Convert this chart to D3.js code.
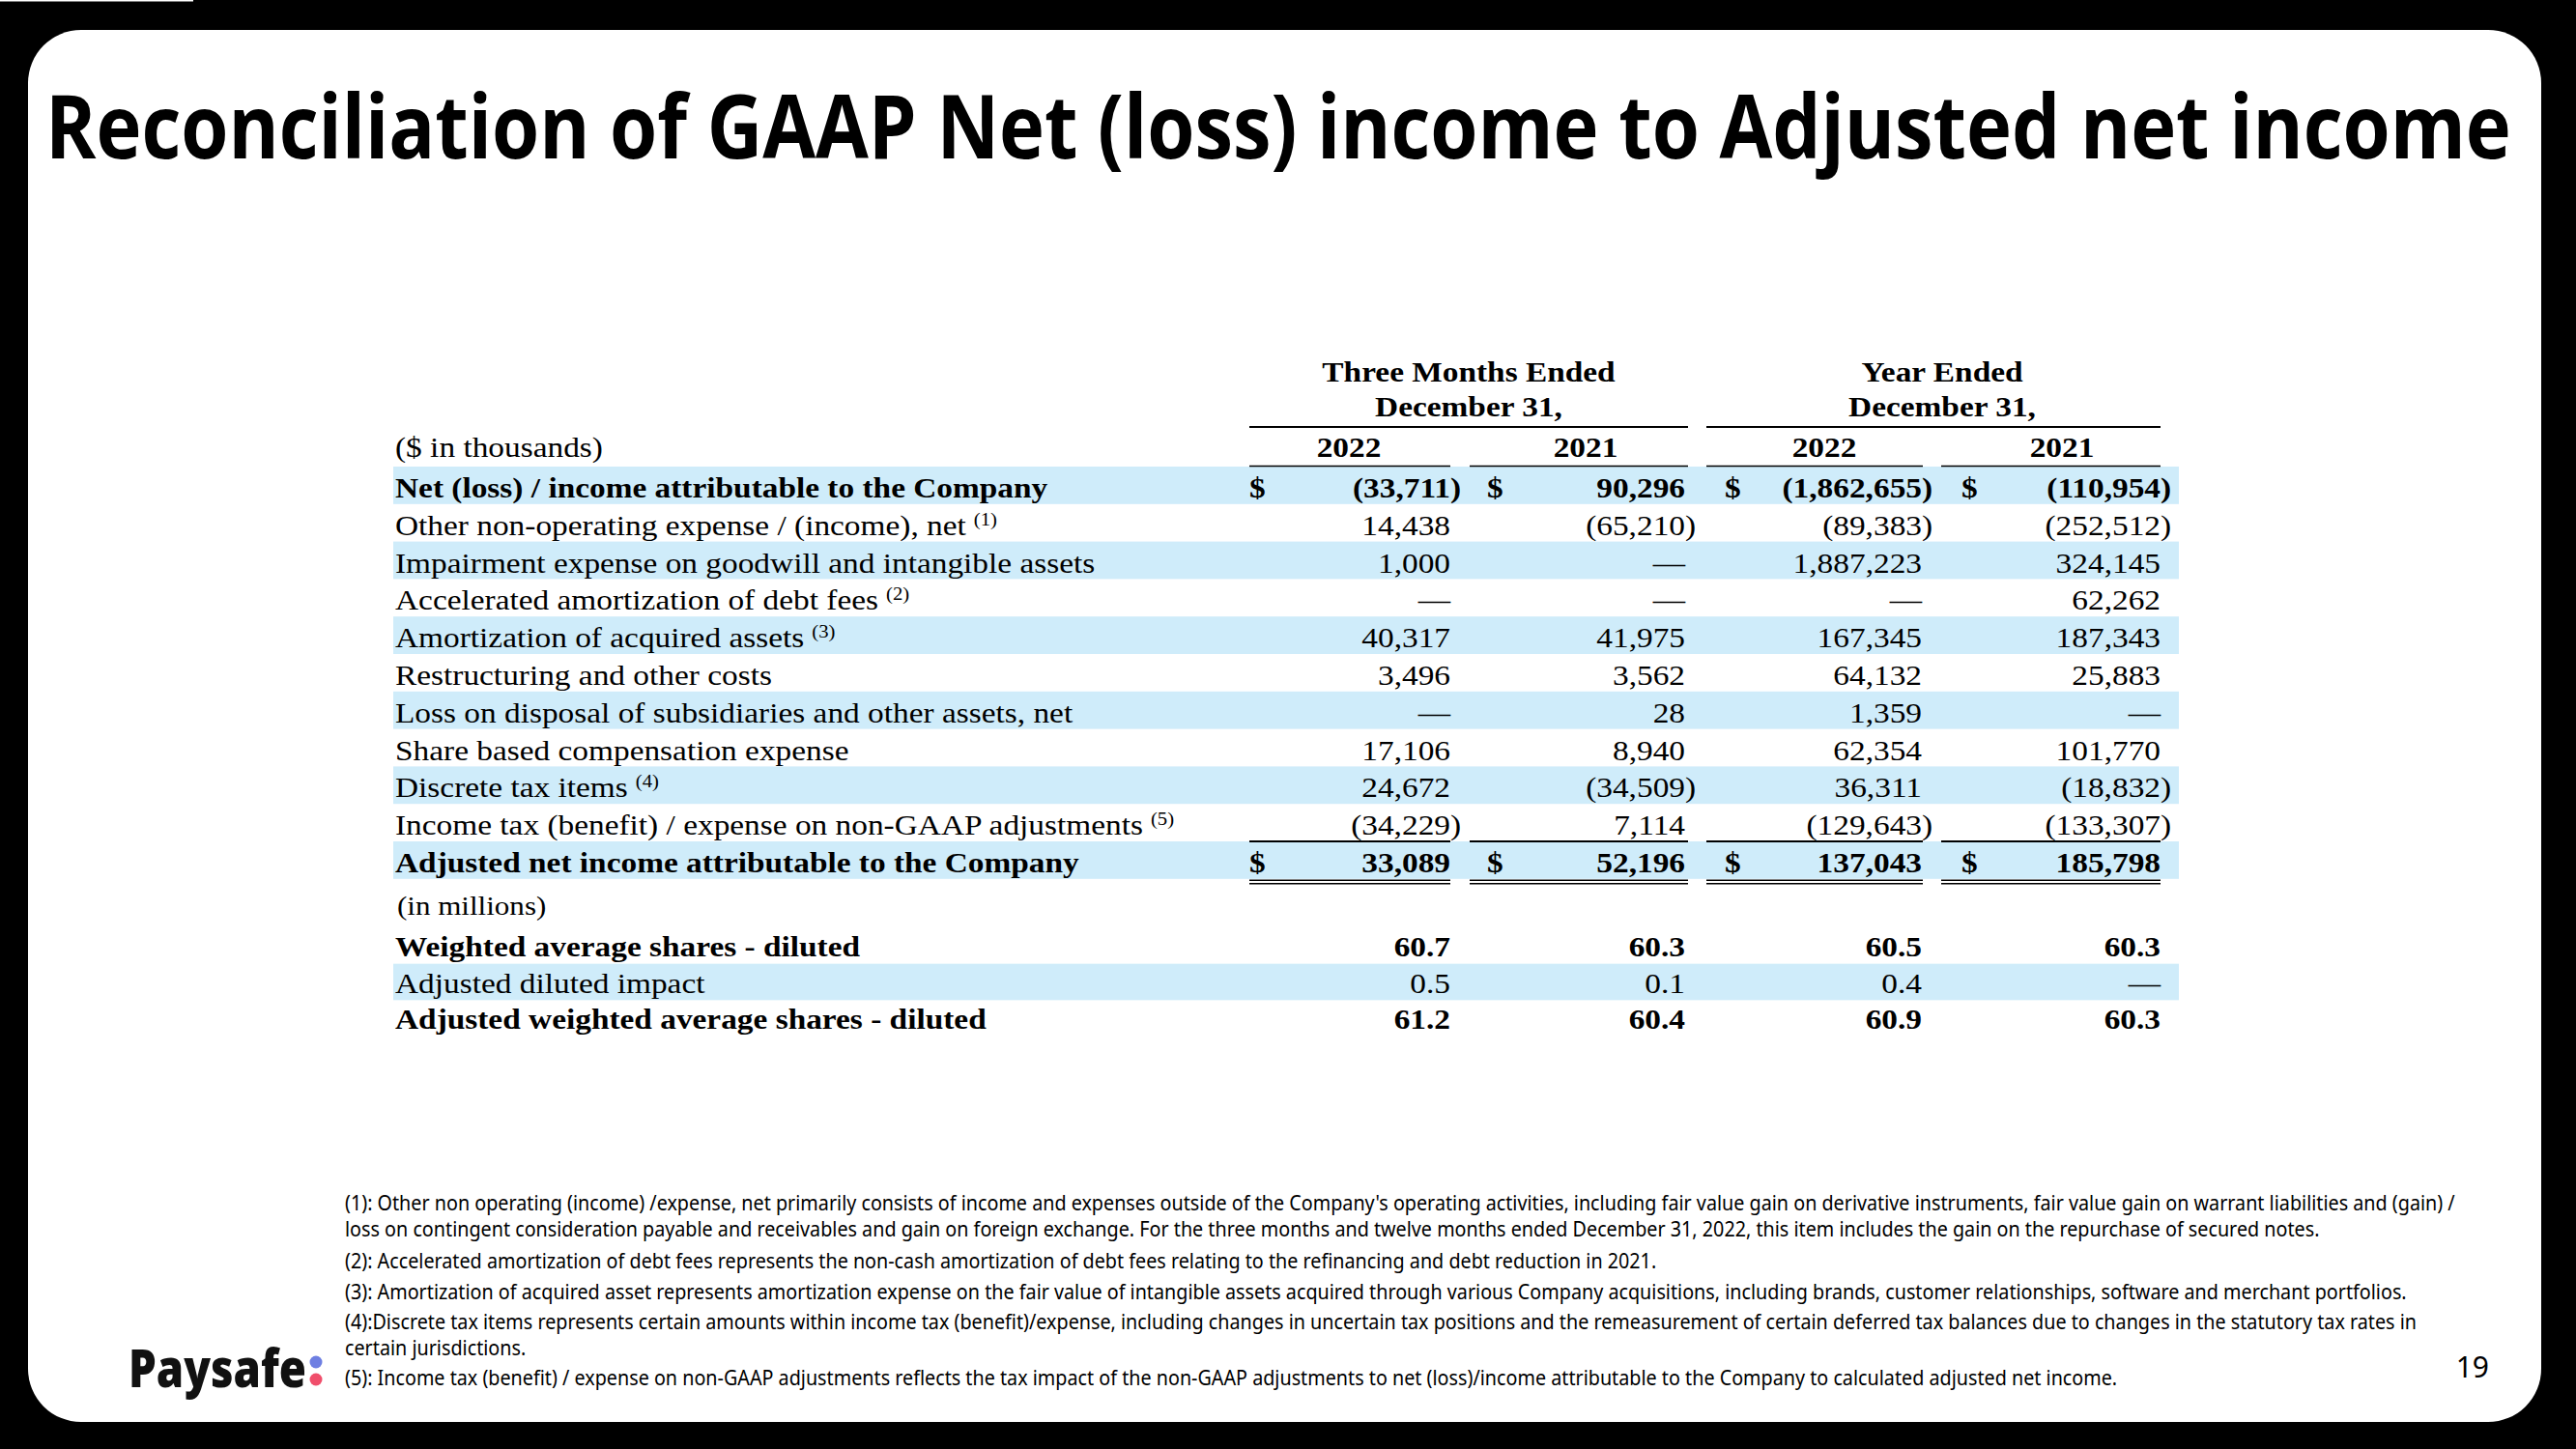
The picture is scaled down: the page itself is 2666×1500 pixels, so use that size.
<!DOCTYPE html>
<html>
<head>
<meta charset="utf-8">
<script src="https://cdn.jsdelivr.net/npm/d3@7"></script>
<style>
  html, body { margin: 0; padding: 0; background: #000; }
  svg { display: block; }
</style>
</head>
<body>
<script>
// ---------------- DATA ----------------
const titleText = "Reconciliation of GAAP Net (loss) income to Adjusted net income";
const unitLabel = "($ in thousands)";
const periodHeaders = [["Three Months Ended", "December 31,"], ["Year Ended", "December 31,"]];
const yearLabels = ["2022", "2021", "2022", "2021"];
const columnKeys = ["q4_2022", "q4_2021", "fy2022", "fy2021"];

const rowLabels = [
  "Net (loss) / income attributable to the Company",
  "Other non-operating expense / (income), net",
  "Impairment expense on goodwill and intangible assets",
  "Accelerated amortization of debt fees",
  "Amortization of acquired assets",
  "Restructuring and other costs",
  "Loss on disposal of subsidiaries and other assets, net",
  "Share based compensation expense",
  "Discrete tax items",
  "Income tax (benefit) / expense on non-GAAP adjustments",
  "Adjusted net income attributable to the Company"
];
const rowNotes = ["", "(1)", "", "(2)", "(3)", "", "", "", "(4)", "(5)", ""];
const rowBold = [true, false, false, false, false, false, false, false, false, false, true];
const rowDollar = [true, false, false, false, false, false, false, false, false, false, true];

const q4_2022 = [-33711, 14438, 1000, null, 40317, 3496, null, 17106, 24672, -34229, 33089];
const q4_2021 = [90296, -65210, null, null, 41975, 3562, 28, 8940, -34509, 7114, 52196];
const fy2022 = [-1862655, -89383, 1887223, null, 167345, 64132, 1359, 62354, 36311, -129643, 137043];
const fy2021 = [-110954, -252512, 324145, 62262, 187343, 25883, null, 101770, -18832, -133307, 185798];

const shareUnitLabel = "(in millions)";
const shareLabels = [
  "Weighted average shares - diluted",
  "Adjusted diluted impact",
  "Adjusted weighted average shares - diluted"
];
const shareBold = [true, false, true];
const sh_q4_2022 = [60.7, 0.5, 61.2];
const sh_q4_2021 = [60.3, 0.1, 60.4];
const sh_fy2022 = [60.5, 0.4, 60.9];
const sh_fy2021 = [60.3, null, 60.3];

const footnoteLines = [
  "(1): Other non operating (income) /expense, net primarily consists of income and expenses outside of the Company's operating activities, including fair value gain on derivative instruments, fair value gain on warrant liabilities and (gain) /",
  "loss on contingent consideration payable and receivables and gain on foreign exchange. For the three months and twelve months ended December 31, 2022, this item includes the gain on the repurchase of secured notes.",
  "(2): Accelerated amortization of debt fees represents the non-cash amortization of debt fees relating to the refinancing and debt reduction in 2021.",
  "(3): Amortization of acquired asset represents amortization expense on the fair value of intangible assets acquired through various Company acquisitions, including brands, customer relationships, software and merchant portfolios.",
  "(4):Discrete tax items represents certain amounts within income tax (benefit)/expense, including changes in uncertain tax positions and the remeasurement of certain deferred tax balances due to changes in the statutory tax rates in",
  "certain jurisdictions.",
  "(5): Income tax (benefit) / expense on non-GAAP adjustments reflects the tax impact of the non-GAAP adjustments to net (loss)/income attributable to the Company to calculated adjusted net income."
];
const logoText = "Paysafe";
const pageNumber = "19";

// ---------------- LAYOUT ----------------
const W = 2666, H = 1500;
const serif = "'Liberation Serif', 'Times New Roman', serif";
const FS = 29, SX = 1.15;
const bandColor = "#CFECFA";

const svg = d3.select("body").append("svg").attr("width", W).attr("height", H);
svg.append("rect").attr("width", W).attr("height", H).attr("fill", "#000");
svg.append("rect").attr("x", 0).attr("y", 0).attr("width", 200).attr("height", 1.5).attr("fill", "#fff");
svg.append("rect").attr("x", 29).attr("y", 31).attr("width", 2601).attr("height", 1441)
  .attr("rx", 55).attr("ry", 55).attr("fill", "#fff");

// Title (scaled horizontally to the reference width)
const title = svg.append("text")
  .attr("font-family", "'Open Sans', sans-serif").attr("font-weight", 700).attr("font-size", 92)
  .attr("fill", "#000").text(titleText);
const titleNat = title.node().getComputedTextLength();
title.attr("transform", `translate(47,164) scale(${2552 / titleNat},1)`);

// Scales
const yUpper = d3.scaleBand().domain(d3.range(rowLabels.length)).range([483, 483 + 38.8 * rowLabels.length]);
const yLower = d3.scaleBand().domain(d3.range(shareLabels.length)).range([960, 1073]);
const xRight = d3.scaleOrdinal().domain(columnKeys).range([1501, 1744, 1989, 2236]);
const xLineL = d3.scaleOrdinal().domain(columnKeys).range([1293, 1521, 1766, 2009]);
const xLineR = d3.scaleOrdinal().domain(columnKeys).range([1501, 1747, 1990, 2236]);
const xDollar = d3.scaleOrdinal().domain(columnKeys).range([1293, 1539, 1785, 2030]);
const xYear = d3.scaleOrdinal().domain(columnKeys).range([1396, 1641, 1888, 2134]);
const xGroupCenter = [1520, 2010];
const bandX0 = 407, bandX1 = 2255, labelX = 409;

const colData = { q4_2022, q4_2021, fy2022, fy2021 };
const shData = { q4_2022: sh_q4_2022, q4_2021: sh_q4_2021, fy2022: sh_fy2022, fy2021: sh_fy2021 };

const g = svg.append("g");

// Bands
g.selectAll("rect.bandU").data(d3.range(rowLabels.length).filter(i => i % 2 === 0)).join("rect")
  .attr("x", bandX0).attr("width", bandX1 - bandX0)
  .attr("y", i => yUpper(i)).attr("height", yUpper.bandwidth()).attr("fill", bandColor);
g.selectAll("rect.bandL").data([1]).join("rect")
  .attr("x", bandX0).attr("width", bandX1 - bandX0)
  .attr("y", i => yLower(i)).attr("height", yLower.bandwidth()).attr("fill", bandColor);

function stxt(parent, x, y, str, opts = {}) {
  const t = parent.append("text")
    .attr("transform", `translate(${x},${y}) scale(${opts.sx || SX},1)`)
    .attr("font-family", serif).attr("font-size", opts.fs || FS)
    .attr("font-weight", opts.bold ? 700 : 400)
    .attr("text-anchor", opts.anchor || "start").attr("fill", "#000");
  t.text(str);
  return t;
}

// Headers
const groupCols = [["q4_2022", "q4_2021"], ["fy2022", "fy2021"]];
periodHeaders.forEach((ph, k) => {
  const cx = xGroupCenter[k];
  stxt(g, cx, 395, ph[0], { bold: true, anchor: "middle" });
  stxt(g, cx, 431, ph[1], { bold: true, anchor: "middle" });
  g.append("line").attr("x1", xLineL(groupCols[k][0])).attr("x2", xLineR(groupCols[k][1]))
    .attr("y1", 442).attr("y2", 442).attr("stroke", "#000").attr("stroke-width", 2);
});
columnKeys.forEach((c, i) => {
  stxt(g, xYear(c), 473, yearLabels[i], { bold: true, anchor: "middle" });
});
stxt(g, labelX, 473, unitLabel);

// Upper rows
const fmt = d3.format(",");
rowLabels.forEach((lab, i) => {
  const base = yUpper(i) + 32;
  const t = stxt(g, labelX, base, lab, { bold: rowBold[i] });
  if (rowNotes[i]) {
    t.append("tspan").attr("dx", 7).attr("dy", -10).attr("font-size", 18).attr("font-weight", 400).text(rowNotes[i]);
  }
  columnKeys.forEach(c => {
    const v = colData[c][i];
    const xr = xRight(c);
    if (rowDollar[i]) stxt(g, xDollar(c), base, "$", { bold: rowBold[i] });
    if (v === null) {
      stxt(g, xr, base, "\u2014", { anchor: "end", bold: rowBold[i] });
    } else if (v < 0) {
      stxt(g, xr, base, "(" + fmt(-v), { anchor: "end", bold: rowBold[i] });
      stxt(g, xr, base, ")", { anchor: "start", bold: rowBold[i] });
    } else {
      stxt(g, xr, base, fmt(v), { anchor: "end", bold: rowBold[i] });
    }
  });
});

// Rules
columnKeys.forEach(c => {
  const x1 = xLineL(c), x2 = xLineR(c);
  [[yUpper(0) - 0.5, 1.5], [yUpper(rowLabels.length - 1), 2],
   [yUpper(rowLabels.length - 1) + yUpper.bandwidth() + 1.5, 1.5],
   [yUpper(rowLabels.length - 1) + yUpper.bandwidth() + 5, 1.5]].forEach(([y, w]) => {
    g.append("line").attr("x1", x1).attr("x2", x2).attr("y1", y).attr("y2", y)
      .attr("stroke", "#000").attr("stroke-width", w);
  });
});

// Lower (shares) section
stxt(g, labelX + 2, 947, shareUnitLabel, { fs: 27 });
const fmt1 = d3.format(".1f");
shareLabels.forEach((lab, i) => {
  const base = yLower(i) + 30;
  stxt(g, labelX, base, lab, { bold: shareBold[i] });
  columnKeys.forEach(c => {
    const v = shData[c][i];
    stxt(g, xRight(c), base, v === null ? "\u2014" : fmt1(v), { anchor: "end", bold: shareBold[i] });
  });
});

// Footnotes
const fnX = 357;
const fnY = [1253, 1280, 1313, 1345, 1376, 1403, 1434];
const fnTargetEnd = [2545, 2394, 1714, 2496, 2500, 544, 2198];
const fnG = svg.append("g");
const fnTexts = footnoteLines.map((s, i) => fnG.append("text")
  .attr("font-family", "'Noto Sans', sans-serif").attr("font-size", 21).attr("fill", "#000").text(s));
const natural = fnTexts.map(t => t.node().getComputedTextLength());
const fnScale = d3.sum(fnTargetEnd, d => d - fnX) / d3.sum(natural);
fnTexts.forEach((t, i) => t.attr("transform", `translate(${fnX},${fnY[i]}) scale(${fnScale},1)`));

// Logo
const logo = svg.append("text")
  .attr("font-family", "'Open Sans', sans-serif").attr("font-weight", 800).attr("font-size", 55)
  .attr("fill", "#111").text(logoText);
const logoNat = logo.node().getComputedTextLength();
logo.attr("transform", `translate(133,1436) scale(${184 / logoNat},1)`);
svg.append("circle").attr("cx", 327).attr("cy", 1410).attr("r", 6.5).attr("fill", "#6E7FE2");
svg.append("circle").attr("cx", 327).attr("cy", 1428).attr("r", 6.5).attr("fill", "#F04E6B");

// Page number
svg.append("text").attr("x", 2576).attr("y", 1426).attr("text-anchor", "end")
  .attr("font-family", "'Noto Sans', sans-serif").attr("font-size", 30).attr("fill", "#000").text(pageNumber);
</script>
</body>
</html>
